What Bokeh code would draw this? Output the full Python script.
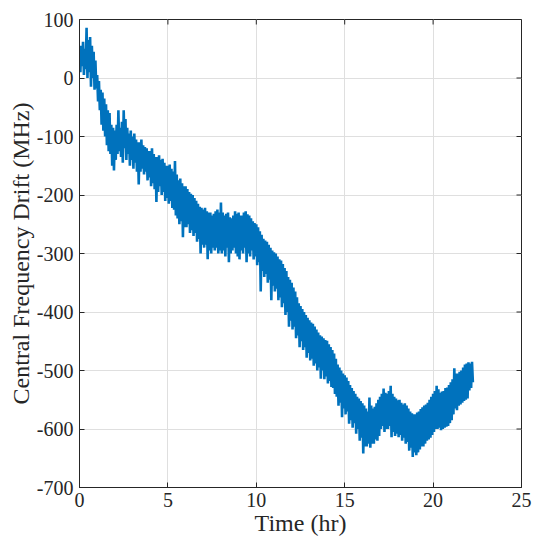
from bokeh.plotting import figure
from bokeh.models import FixedTicker, Range1d
from bokeh.embed import file_html
from bokeh.resources import INLINE
import numpy as np

# Sample spacing of the recorded drift (hours)
t_step = 0.05

# Central frequency drift (MHz), one row per hour
drift = [
    40, 10, 55, 20, 62, 5, 50, 15, 86, 0, 65, 10, 70, -15, 55, 0, 45, -20, 30, -18,                                   # 0 h
    5, -40, -5, -55, -20, -80, -25, -90, -35, -100, -45, -115, -55, -125, -60, -130, -80, -150, -85, -158,            # 1 h
    -90, -140, -80, -130, -55, -125, -85, -135, -75, -145, -55, -120, -70, -140, -85, -130, -95, -150, -90, -140,     # 2 h
    -100, -155, -95, -145, -105, -160, -110, -182, -110, -160, -105, -155, -115, -165, -118, -160, -120, -175, -125, -170,  # 3 h
    -125, -185, -120, -180, -130, -190, -135, -212, -135, -195, -132, -185, -140, -200, -138, -195, -145, -210, -150, -205,  # 4 h
    -150, -215, -148, -210, -155, -222, -160, -225, -142, -235, -165, -240, -175, -250, -172, -245, -180, -272, -185, -255,  # 5 h
    -185, -255, -190, -250, -195, -265, -198, -260, -200, -270, -205, -265, -210, -280, -215, -275, -220, -300, -222, -285,  # 6 h
    -225, -290, -222, -285, -228, -310, -230, -295, -230, -300, -235, -290, -232, -295, -228, -290, -225, -300, -230, -295,  # 7 h
    -213, -300, -230, -295, -235, -305, -232, -290, -230, -315, -238, -300, -240, -295, -235, -290, -228, -300, -232, -305,  # 8 h
    -230, -310, -235, -295, -235, -300, -230, -290, -228, -315, -233, -300, -235, -305, -240, -295, -245, -310, -248, -305,  # 9 h
    -250, -320, -255, -315, -262, -365, -268, -330, -275, -340, -278, -335, -280, -350, -285, -345, -290, -380, -295, -355,  # 10 h
    -298, -365, -300, -360, -305, -380, -310, -375, -312, -392, -318, -385, -325, -405, -330, -400, -340, -425, -345, -415,  # 11 h
    -350, -430, -358, -425, -365, -445, -375, -440, -385, -460, -390, -450, -395, -465, -400, -460, -405, -478, -410, -470,  # 12 h
    -414, -483, -418, -480, -420, -492, -425, -488, -430, -500, -435, -495, -440, -514, -442, -500, -445, -515, -448, -510,  # 13 h
    -449, -522, -455, -518, -460, -528, -465, -530, -471, -540, -480, -545, -490, -560, -495, -555, -500, -580, -505, -565,  # 14 h
    -508, -575, -512, -570, -518, -591, -525, -585, -530, -598, -535, -590, -540, -608, -545, -600, -548, -620, -552, -615,  # 15 h
    -556, -642, -560, -630, -565, -630, -570, -625, -546, -632, -560, -625, -565, -625, -562, -618, -556, -620, -550, -612,  # 16 h
    -545, -600, -540, -595, -531, -605, -538, -600, -540, -600, -535, -595, -526, -614, -540, -605, -545, -612, -548, -608,  # 17 h
    -551, -614, -550, -610, -555, -620, -558, -615, -556, -625, -560, -622, -565, -637, -570, -632, -573, -648, -575, -640,  # 18 h
    -575, -645, -572, -640, -570, -635, -566, -630, -563, -630, -560, -625, -558, -620, -555, -618, -550, -615, -545, -610,  # 19 h
    -540, -605, -535, -600, -526, -600, -532, -598, -538, -602, -536, -600, -535, -598, -530, -596, -529, -595, -525, -590,  # 20 h
    -520, -585, -515, -575, -496, -565, -505, -568, -505, -560, -502, -558, -500, -555, -495, -552, -490, -550, -488, -548,  # 21 h
    -486, -534, -488, -530, -485, -520,                                                                                # 22 h
]
times = t_step * np.arange(len(drift))

x_min, x_max = 0, 25
y_min, y_max = -700, 100
x_ticks = [0, 5, 10, 15, 20, 25]
y_ticks = [-700, -600, -500, -400, -300, -200, -100, 0, 100]
y_tick_labels = {v: str(v) for v in y_ticks}
x_tick_labels = {v: str(v) for v in x_ticks}

FONT = "Liberation Serif"
AX = "#262626"

p = figure(width=537, height=544, x_range=Range1d(x_min, x_max), y_range=Range1d(y_min, y_max),
           output_backend="svg", toolbar_location=None,
           min_border_left=79, min_border_right=16, min_border_top=19, min_border_bottom=57)
p.outline_line_color = AX
p.outline_line_width = 1
p.background_fill_color = "white"
p.border_fill_color = "white"

p.xgrid.ticker = FixedTicker(ticks=x_ticks)
p.ygrid.ticker = FixedTicker(ticks=y_ticks)
p.grid.grid_line_color = "#dfdfdf"
p.grid.grid_line_width = 1

p.line(times, drift, line_color="#0072BD", line_width=2.6)

# inward ticks on the top and right edges (box on)
p.ray(x=x_ticks, y=[y_max] * len(x_ticks), length=5, length_units="screen",
      angle=-np.pi / 2, line_color=AX, line_width=1)
p.ray(x=[x_max] * len(y_ticks), y=y_ticks, length=5, length_units="screen",
      angle=np.pi, line_color=AX, line_width=1)

for ax in p.xaxis:
    ax.ticker = FixedTicker(ticks=x_ticks)
    ax.major_label_overrides = x_tick_labels
    ax.axis_label = "Time (hr)"
    ax.major_label_standoff = 5
for ax in p.yaxis:
    ax.ticker = FixedTicker(ticks=y_ticks)
    ax.major_label_overrides = y_tick_labels
    ax.axis_label = "Central Frequency Drift (MHz)"
    ax.major_label_standoff = 6

for ax in list(p.xaxis) + list(p.yaxis):
    ax.major_tick_in = 5
    ax.major_tick_out = 0
    ax.minor_tick_line_color = None
    ax.axis_line_color = AX
    ax.major_tick_line_color = AX
    ax.axis_line_width = 1
    ax.major_label_text_font = FONT
    ax.major_label_text_font_size = "20px"
    ax.major_label_text_color = AX
    ax.axis_label_text_font = FONT
    ax.axis_label_text_font_size = "24px"
    ax.axis_label_text_font_style = "normal"
    ax.axis_label_text_color = AX
    ax.axis_label_standoff = 0

open("out.html", "w").write(file_html(p, INLINE))
